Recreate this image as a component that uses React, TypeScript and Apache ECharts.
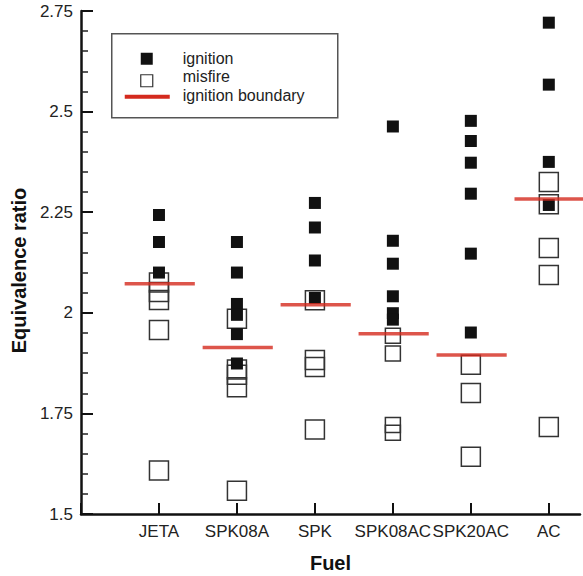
import React, { useEffect, useRef } from "react";
import * as echarts from "echarts";

const categories = ["JETA", "SPK08A", "SPK", "SPK08AC", "SPK20AC", "AC"];

const ignitionJETA = [2.243, 2.176, 2.1];
const ignitionSPK08A = [2.176, 2.1, 2.022, 1.995, 1.947, 1.874];
const ignitionSPK = [2.273, 2.212, 2.13, 2.037];
const ignitionSPK08AC = [2.463, 2.179, 2.122, 2.041, 1.999, 1.983];
const ignitionSPK20AC = [2.477, 2.427, 2.373, 2.296, 2.147, 1.951];
const ignitionAC = [2.721, 2.567, 2.375, 2.268];

const misfireJETA = [2.075, 2.052, 2.032, 1.957, 1.608];
const misfireSPK08A = [1.985, 1.859, 1.846, 1.815, 1.558];
const misfireSPK = [2.031, 1.883, 1.865, 1.71];
const misfireSPK08AC = [1.943, 1.899, 1.721, 1.702];
const misfireSPK20AC = [1.871, 1.801, 1.642];
const misfireAC = [2.325, 2.27, 2.161, 2.094, 1.716];

const ignitionBoundary = [2.072, 1.914, 2.02, 1.948, 1.895, 2.283];

const yTicks = [1.5, 1.75, 2, 2.25, 2.5, 2.75];

const ignitionByFuel = [ignitionJETA, ignitionSPK08A, ignitionSPK, ignitionSPK08AC, ignitionSPK20AC, ignitionAC];
const misfireByFuel = [misfireJETA, misfireSPK08A, misfireSPK, misfireSPK08AC, misfireSPK20AC, misfireAC];

const FONT = "'Liberation Sans', Arial, Helvetica, sans-serif";

export default function App() {
  const ref = useRef<HTMLDivElement>(null);
  useEffect(() => {
    document.body.style.margin = "0";
    if (!ref.current) return;
    const chart = echarts.init(ref.current, undefined, { renderer: "svg" });

    const ignitionData: number[][] = [];
    ignitionByFuel.forEach((arr, i) => arr.forEach((v) => ignitionData.push([i + 1, v])));
    const misfireData: number[][] = [];
    misfireByFuel.forEach((arr, i) => arr.forEach((v) => misfireData.push([i + 1, v])));
    const boundaryData = ignitionBoundary.map((v, i) => [i + 1, v]);

    chart.setOption({
      animation: false,
      backgroundColor: "#fff",
      textStyle: { fontFamily: FONT },
      grid: { left: 81, right: 3, top: 11, bottom: 62, containLabel: false, outerBoundsMode: "none" },
      xAxis: {
        type: "value",
        min: 0,
        max: 6.4,
        interval: 1,
        name: "Fuel",
        nameLocation: "middle",
        nameGap: 39,
        nameTextStyle: { fontFamily: FONT, fontSize: 20, fontWeight: "bold", color: "#111" },
        axisLine: { show: true, lineStyle: { color: "#111", width: 2.5 } },
        axisTick: { show: true, inside: true, length: 11, lineStyle: { color: "#111", width: 2 } },
        axisLabel: {
          fontFamily: FONT,
          fontSize: 17,
          color: "#222",
          margin: 9,
          showMinLabel: true,
          showMaxLabel: false,
          formatter: (v: number) => categories[Math.round(v) - 1] ?? "",
        },
        splitLine: { show: false },
      },
      yAxis: {
        type: "value",
        min: 1.5,
        max: 2.75,
        interval: 0.25,
        name: "Equivalence ratio",
        nameLocation: "middle",
        nameGap: 52,
        nameTextStyle: { fontFamily: FONT, fontSize: 20, fontWeight: "bold", color: "#111", padding: [0, 16, 0, 0] },
        axisLine: { show: true, lineStyle: { color: "#111", width: 2.5 } },
        axisTick: { show: true, inside: true, length: 12, lineStyle: { color: "#111", width: 2 } },
        minorTick: { show: true, splitNumber: 5, length: 7, lineStyle: { color: "#222", width: 1.5 } },
        axisLabel: {
          fontFamily: FONT,
          fontSize: 17,
          color: "#222",
          margin: 8,
          formatter: (v: number) => {
            const t = yTicks.find((y) => Math.abs(y - v) < 1e-6);
            return t === undefined ? "" : String(t);
          },
        },
        splitLine: { show: false },
      },
      series: [
        {
          name: "misfire",
          type: "scatter",
          symbol: "rect",
          symbolSize: (val: number[]) => (val[0] === 4 ? 15 : 19),
          data: misfireData,
          itemStyle: { color: "rgba(0,0,0,0)", borderColor: "#333", borderWidth: 1.5, opacity: 1 },
          z: 2,
        },
        {
          name: "ignition",
          type: "scatter",
          symbol: "rect",
          symbolSize: 12,
          data: ignitionData,
          itemStyle: { color: "#111", opacity: 1 },
          z: 3,
        },
        {
          name: "ignition boundary",
          type: "custom",
          data: boundaryData,
          z: 4,
          renderItem: (params: any, api: any) => {
            const x = api.value(0);
            const y = api.value(1);
            const p1 = api.coord([x - 0.44, y]);
            const p2 = api.coord([x + 0.46, y]);
            return {
              type: "line",
              shape: { x1: p1[0], y1: p1[1], x2: p2[0], y2: p2[1] },
              style: { stroke: "#d42a1e", lineWidth: 3.5, opacity: 0.8 },
            };
          },
        },
      ],
      graphic: [
        {
          type: "group",
          left: 111,
          top: 33,
          z: 10,
          children: [
            {
              type: "rect",
              shape: { x: 0, y: 0, width: 226, height: 84 },
              style: { fill: "#fff", stroke: "#555", lineWidth: 1.5 },
            },
            {
              type: "rect",
              shape: { x: 29, y: 19, width: 12, height: 12 },
              style: { fill: "#111" },
            },
            {
              type: "rect",
              shape: { x: 29, y: 41, width: 12, height: 12 },
              style: { fill: "#fff", stroke: "#333", lineWidth: 1.2 },
            },
            {
              type: "line",
              shape: { x1: 13, y1: 63, x2: 58, y2: 63 },
              style: { stroke: "#d42a1e", lineWidth: 4 },
            },
            {
              type: "text",
              x: 71,
              y: 25,
              style: { text: "ignition", font: `16px ${FONT}`, fill: "#222", verticalAlign: "middle" },
            },
            {
              type: "text",
              x: 71,
              y: 43,
              style: { text: "misfire", font: `16px ${FONT}`, fill: "#222", verticalAlign: "middle" },
            },
            {
              type: "text",
              x: 71,
              y: 62,
              style: { text: "ignition boundary", font: `16px ${FONT}`, fill: "#222", verticalAlign: "middle" },
            },
          ],
        },
      ],
    });
    return () => chart.dispose();
  }, []);
  return <div ref={ref} style={{ width: 583, height: 576 }} />;
}
